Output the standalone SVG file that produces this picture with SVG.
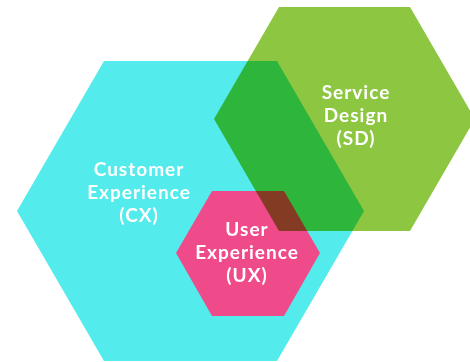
<svg xmlns="http://www.w3.org/2000/svg" width="470" height="362" viewBox="0 0 470 362">
  <style>
    .lbl { font-family: Lato, "Open Sans", "DejaVu Sans", sans-serif; font-weight: 700; font-size: 19px; letter-spacing: 1px; fill: #ffffff; text-anchor: middle; }
  </style>
  <rect width="470" height="362" fill="#ffffff"/>
  <g id="cx">
    <polygon points="17,211 104,61 277,61 364,211 277,361 104,361" fill="#53ebeb"/>
  </g>
  <g id="ux">
    <polygon points="176,253 212,191 284,191 320,253 284,316 212,316" fill="#ef4b8b"/>
  </g>
  <!-- service design hexagon multiplies over the others to tint the overlaps -->
  <g id="sd" style="mix-blend-mode: multiply">
    <polygon points="214,119 279,7 410,7 475,119 410,231 279,231" fill="#8dc641"/>
  </g>
  <g id="labels">
    <text class="lbl" x="139" y="176">Customer</text>
    <text class="lbl" x="139" y="199">Experience</text>
    <text class="lbl" x="139" y="222">(CX)</text>
    <text class="lbl" x="356" y="99">Service</text>
    <text class="lbl" x="356" y="122">Design</text>
    <text class="lbl" x="356" y="145">(SD)</text>
    <text class="lbl" x="247" y="236">User</text>
    <text class="lbl" x="247" y="259">Experience</text>
    <text class="lbl" x="247" y="282">(UX)</text>
  </g>
</svg>
